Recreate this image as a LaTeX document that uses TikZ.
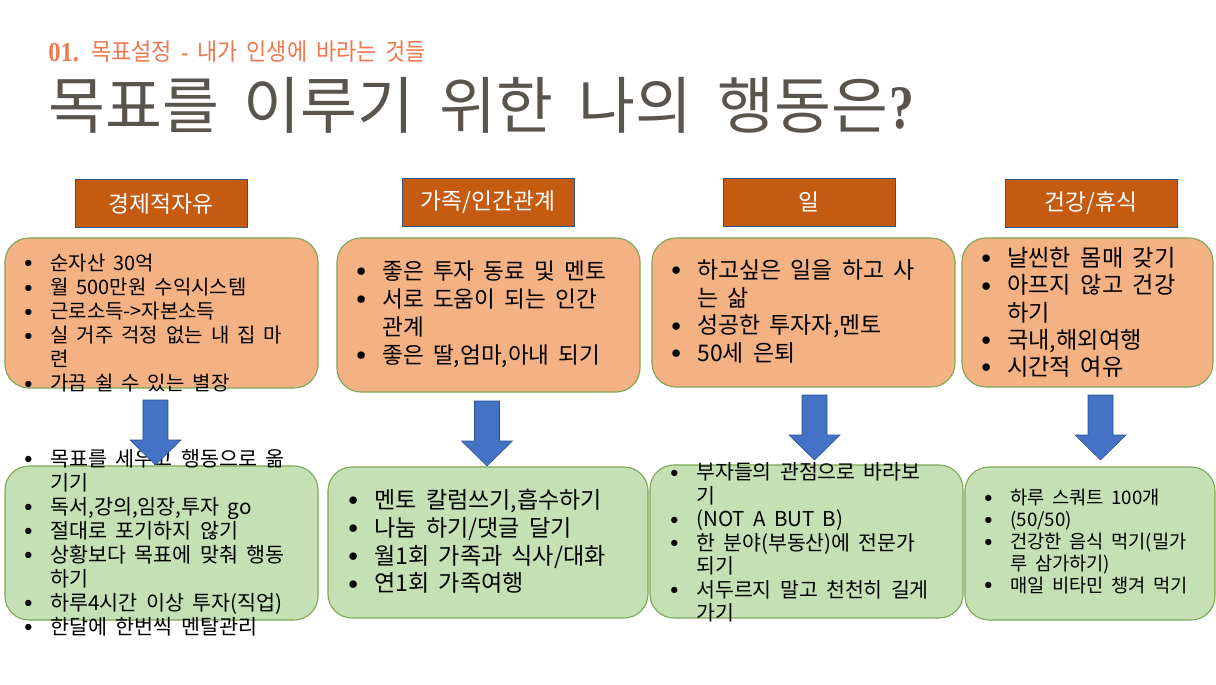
\documentclass[tikz,border=0pt]{standalone}
\usepackage{fontspec}
\usepackage{xcolor}
\usepackage{tikz}
\newfontfamily\kr{Noto Sans CJK KR}
\newfontfamily\krtitle[WordSpace=1.8]{Noto Sans CJK KR}
\newfontfamily\serifb{Liberation Serif}

\definecolor{headfill}{RGB}{197,90,17}
\definecolor{headline}{RGB}{47,82,143}
\definecolor{goalfill}{RGB}{244,177,131}
\definecolor{actfill}{RGB}{197,224,180}
\definecolor{boxline}{RGB}{125,168,88}
\definecolor{arrowfill}{RGB}{68,114,196}
\definecolor{titlegray}{RGB}{89,84,78}
\definecolor{subred}{RGB}{241,119,79}

\newcommand{\itm}{\makebox[0.65cm][l]{\raisebox{.12em}{\scalebox{.8}{$\bullet$}}}}
\newcommand{\nxt}{\hspace*{0.65cm}}

\begin{document}
\begin{tikzpicture}[x=0.025cm, y=-0.025cm,
    head/.style={draw=headline, line width=0.6pt, fill=headfill, minimum width=4.3cm, minimum height=1.2cm, text=white, font=\kr\fontsize{16.2pt}{18pt}\selectfont},
    goal/.style={draw=boxline, line width=0.8pt, fill=goalfill, rounded corners=0.6cm},
    act/.style={draw=boxline, line width=0.8pt, fill=actfill, rounded corners=0.6cm},
    list/.style={anchor=west, inner sep=0pt, align=left, text=black}]
    \fill [white] (0,0) rectangle (1216,684);
    \useasboundingbox (0,0) rectangle (1216,684);

    % title
    \node (num) [anchor=west, inner sep=0pt, text=subred, font=\serifb\bfseries\fontsize{19.5pt}{21pt}\selectfont] at (48,53) {\scalebox{.9}[1]{01.}};
    \node (subtitle) [anchor=west, inner sep=0pt, text=subred, font=\kr\fontsize{17pt}{19pt}\selectfont] at (91,51.5) {\scalebox{.92}[1]{목표설정 {\serifb\bfseries -} 내가 인생에 바라는 것들}};
    \node (title) [anchor=west, inner sep=0pt, text=titlegray, font=\krtitle\fontsize{44pt}{48pt}\selectfont] at (48,105) {목표를 이루기 위한 나의 행동은\hspace{1pt}{\serifb\bfseries\scalebox{.8}[1]{?}}};

    % headers
    \node (head1) [head] at (161,203.5) {경제적자유};
    \node (head2) [head] at (488,202) {가족/인간관계};
    \node (head3) [head] at (809,202) {일};
    \node (head4) [head] at (1091,203) {건강/휴식};

    % goals
    \node (goal1) [goal, minimum width=7.825cm, minimum height=3.75cm] at (161.5,313) {};
    \node (goal2) [goal, minimum width=7.575cm, minimum height=3.85cm] at (488.5,315) {};
    \node (goal3) [goal, minimum width=7.575cm, minimum height=3.725cm] at (803.5,312.5) {};
    \node (goal4) [goal, minimum width=6.275cm, minimum height=3.725cm] at (1087.5,312.5) {};

    % actions
    \node (act1) [act, minimum width=7.825cm, minimum height=3.85cm] at (161.5,543) {};
    \node (act2) [act, minimum width=8cm, minimum height=3.775cm] at (488,542.5) {};
    \node (act3) [act, minimum width=7.825cm, minimum height=3.825cm] at (806.5,541.5) {};
    \node (act4) [act, minimum width=6.25cm, minimum height=3.825cm] at (1090,543.5) {};

    \node (goaltext1) [list, font=\kr\fontsize{14.2pt}{17.1pt}\selectfont] at (24,323) {%
      \itm 순자산 30억\\
      \itm 월 500만원 수익시스템\\
      \itm 근로소득->자본소득\\
      \itm 실 거주 걱정 없는 내 집 마\\
      \nxt 련\\
      \itm 가끔 쉴 수 있는 별장};
    \node (goaltext2) [list, font=\kr\fontsize{16.1pt}{19.9pt}\selectfont] at (356,314) {%
      \itm 좋은 투자 동료 및 멘토\\
      \itm 서로 도움이 되는 인간\\
      \nxt 관계\\
      \itm 좋은 딸,엄마,아내 되기};
    \node (goaltext3) [list, font=\kr\fontsize{16.3pt}{19.7pt}\selectfont] at (671,311.5) {%
      \itm 하고싶은 일을 하고 사\\
      \nxt 는 삶\\
      \itm 성공한 투자자,멘토\\
      \itm 50세 은퇴};
    \node (goaltext4) [list, font=\kr\fontsize{16.5pt}{19.4pt}\selectfont] at (981,312.5) {%
      \itm 날씬한 몸매 갖기\\
      \itm 아프지 않고 건강\\
      \nxt 하기\\
      \itm 국내,해외여행\\
      \itm 시간적 여유};

    \node (acttext1) [list, font=\kr\fontsize{14.7pt}{17.1pt}\selectfont] at (24,542.5) {%
      \itm 목표를 세우고 행동으로 옮\\
      \nxt 기기\\
      \itm 독서,강의,임장,투자 go\\
      \itm 절대로 포기하지 않기\\
      \itm 상황보다 목표에 맞춰 행동\\
      \nxt 하기\\
      \itm 하루4시간 이상 투자(직업)\\
      \itm 한달에 한번씩 멘탈관리};
    \node (acttext2) [list, font=\kr\fontsize{16.4pt}{19.7pt}\selectfont] at (348,541.5) {%
      \itm 멘토 칼럼쓰기,흡수하기\\
      \itm 나눔 하기/댓글 달기\\
      \itm 월1회 가족과 식사/대화\\
      \itm 연1회 가족여행};
    \node (acttext3) [list, font=\kr\fontsize{14.6pt}{16.7pt}\selectfont] at (670,542.5) {%
      \itm 부자들의 관점으로 바라보\\
      \nxt 기\\
      \itm (NOT A BUT B)\\
      \itm 한 분야(부동산)에 전문가\\
      \nxt 되기\\
      \itm 서두르지 말고 천천히 길게\\
      \nxt 가기};
    \node (acttext4) [list, font=\kr\fontsize{13.3pt}{15.5pt}\selectfont] at (984,541.5) {%
      \itm 하루 스쿼트 100개\\
      \itm (50/50)\\
      \itm 건강한 음식 먹기(밀가\\
      \nxt 루 삼가하기)\\
      \itm 매일 비타민 챙겨 먹기};

    % block arrows
    \foreach \n/\x/\y in {1/155.5/400, 2/487/401, 3/814.5/395, 4/1100.5/395} {
      \coordinate (arr\n) at (\x,\y);
      \filldraw [fill=arrowfill, draw=headline, line width=0.4pt]
        ([xshift=-0.3125cm]arr\n) -- ++(25,0) -- ++(0,40) -- ++(13,0)
        -- ++(-25.5,25) -- ++(-25.5,-25) -- ++(13,0) -- cycle;
    }
\end{tikzpicture}
\end{document}
